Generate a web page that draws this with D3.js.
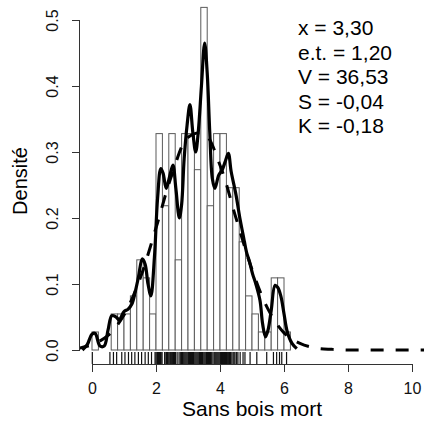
<!DOCTYPE html>
<html>
<head>
<meta charset="utf-8">
<script src="https://cdn.jsdelivr.net/npm/d3@7"></script>
<style>
  body { margin: 0; background: #fff; }
  svg { font-family: "Liberation Sans", Arial, sans-serif; }
</style>
</head>
<body>
<div id="chart"></div>
<script>
// histogram (bin width 0.2), counts
const binStarts = [0.0, 0.2, 0.4, 0.6, 0.8, 1.0, 1.2, 1.4, 1.6, 1.8, 2.0, 2.2, 2.4, 2.6, 2.8,
  3.0, 3.2, 3.4, 3.6, 3.8, 4.0, 4.2, 4.4, 4.6, 4.8, 5.0, 5.2, 5.4, 5.6, 5.8, 6.0];
const binCounts = [1, 0, 0, 2, 2, 2, 3, 5, 4, 2, 12, 8, 12, 5, 12,
  12, 10, 19, 8, 12, 12, 9, 9, 6, 3, 2, 1, 1, 4, 4, 1];
const binWidth = 0.2;
const nObs = 183;

// solid curve (kernel density)
const kdeX = [-0.3, -0.15, 0.0, 0.1, 0.25, 0.38, 0.5, 0.62, 0.75, 0.85, 1.0, 1.13, 1.25, 1.35, 1.45,
  1.57, 1.66, 1.75, 1.84, 1.95, 2.05, 2.15, 2.22, 2.32, 2.42, 2.53, 2.62, 2.73, 2.8, 2.88,
  2.97, 3.06, 3.15, 3.24, 3.32, 3.42, 3.52, 3.6, 3.68, 3.76, 3.84, 3.96, 4.06, 4.16, 4.26,
  4.35, 4.5, 4.62, 4.72, 4.83, 4.92, 5.02, 5.12, 5.25, 5.33, 5.42, 5.5, 5.6, 5.72, 5.8,
  5.9, 6.0, 6.1, 6.25, 6.4];
const kdeY = [0.0, 0.008, 0.024, 0.025, 0.006, 0.006, 0.03, 0.052, 0.05, 0.046, 0.058, 0.062, 0.07, 0.088, 0.11,
  0.138, 0.13, 0.1, 0.082, 0.14, 0.23, 0.275, 0.268, 0.245, 0.262, 0.28, 0.245, 0.2, 0.22, 0.29,
  0.34, 0.372, 0.33, 0.30, 0.33, 0.40, 0.465, 0.42, 0.33, 0.26, 0.245, 0.265, 0.272, 0.285, 0.298,
  0.27, 0.235, 0.2, 0.175, 0.148, 0.134, 0.115, 0.1, 0.075, 0.04, 0.02, 0.03, 0.06, 0.098, 0.095,
  0.082, 0.055, 0.028, 0.01, 0.002];

// dashed curve (normal fit)
const normX = [-0.5, 0, 0.5, 1, 1.5, 2, 2.5, 3, 3.5, 4, 4.5, 5, 5.5, 6, 6.5, 7, 7.5, 8, 8.5, 9, 9.5, 10, 10.5];
const normY = [0.002, 0.008, 0.022, 0.053, 0.108, 0.185, 0.266, 0.322, 0.328, 0.28, 0.2, 0.122, 0.062, 0.026, 0.01, 0.003, 0.001, 0, 0, 0, 0, 0, 0];

// rug of observations
const rugValues = [0.01, 0.56, 0.67, 0.77, 0.93, 1.03, 1.14, 1.24, 1.34, 1.45, 1.55, 1.66, 1.76, 1.86,
  1.97, 2.0, 2.03, 2.05, 2.08, 2.11, 2.14, 2.16, 2.19, 2.27, 2.31, 2.33, 2.36, 2.38, 2.41, 2.44,
  2.46, 2.49, 2.52, 2.55, 2.58, 2.61, 2.66, 2.72, 2.76, 2.8, 2.83, 2.85, 2.88, 2.91, 2.94, 2.97,
  3.0, 3.02, 3.05, 3.08, 3.11, 3.14, 3.17, 3.19, 3.22, 3.25, 3.28, 3.31, 3.34, 3.36, 3.39, 3.42,
  3.45, 3.47, 3.5, 3.53, 3.56, 3.58, 3.61, 3.64, 3.67, 3.7, 3.74, 3.78, 3.82, 3.85, 3.88, 3.91,
  3.94, 3.97, 4.0, 4.02, 4.05, 4.08, 4.11, 4.14, 4.17, 4.2, 4.23, 4.27, 4.3, 4.33, 4.37, 4.41,
  4.44, 4.47, 4.52, 4.56, 4.63, 4.72, 4.78, 4.94, 5.15, 5.46, 5.67, 5.77, 5.86, 5.93, 6.08];

const xTicks = [0, 2, 4, 6, 8, 10];
const yTicks = [0, 0.1, 0.2, 0.3, 0.4, 0.5];
const statLines = ["x = 3,30", "e.t. = 1,20", "V = 36,53", "S = -0,04", "K = -0,18"];

const width = 424, height = 423;

const svg = d3.select("#chart")
  .append("svg")
  .attr("width", width)
  .attr("height", height);

const x = d3.scaleLinear().domain([0, 10]).range([92, 412]);
const y = d3.scaleLinear().domain([0, 0.5]).range([350, 20]);

// plot region clip (R draws inside the box only)
svg.append("clipPath").attr("id", "plotclip")
  .append("rect")
  .attr("x", 80).attr("y", 0)
  .attr("width", width - 80).attr("height", 364);

const plot = svg.append("g").attr("clip-path", "url(#plotclip)");

// bars
const bins = binStarts.map((b, i) => ({x0: b, x1: b + binWidth, d: binCounts[i] / (nObs * binWidth)}));
plot.selectAll("rect.bar")
  .data(bins)
  .enter()
  .append("rect")
  .attr("class", "bar")
  .attr("x", d => x(d.x0))
  .attr("y", d => y(d.d))
  .attr("width", d => x(d.x1) - x(d.x0))
  .attr("height", d => y(0) - y(d.d))
  .style("fill", "white")
  .style("stroke", "#5a5a5a")
  .style("stroke-width", 1);

// rug
plot.selectAll("line.rug")
  .data(rugValues)
  .enter()
  .append("line")
  .attr("class", "rug")
  .attr("x1", d => x(d)).attr("x2", d => x(d))
  .attr("y1", 352).attr("y2", 364)
  .style("stroke", "#111")
  .style("stroke-width", 1.2);

// dashed normal curve
const curveLine = d3.line()
  .x(d => x(d[0]))
  .y(d => y(d[1]))
  .curve(d3.curveCatmullRom);
plot.append("path")
  .datum(normX.map((v, i) => [v, normY[i]]))
  .attr("d", curveLine)
  .style("fill", "none")
  .style("stroke", "black")
  .style("stroke-width", 3)
  .style("stroke-dasharray", "13,12");

// solid kernel density
plot.append("path")
  .datum(kdeX.map((v, i) => [v, kdeY[i]]))
  .attr("d", curveLine)
  .style("fill", "none")
  .style("stroke", "black")
  .style("stroke-width", 3.2)
  .style("stroke-linejoin", "round");

// x axis
const xAxis = svg.append("g")
  .attr("transform", "translate(0,364)")
  .call(d3.axisBottom(x).tickValues(xTicks).tickSize(8).tickPadding(10).tickFormat(d3.format("d")));
xAxis.select(".domain").attr("d", "M" + x(0) + ",0.5H" + x(10)).style("stroke", "#333");
xAxis.selectAll(".tick line").style("stroke", "#333");
xAxis.selectAll("text").style("font-size", "16px").style("fill", "#111")
  .attr("dy", "0.75em");

// y axis
const yAxis = svg.append("g")
  .attr("transform", "translate(80,0)")
  .call(d3.axisLeft(y).tickValues(yTicks).tickSize(8).tickFormat(d3.format(".1f")));
yAxis.select(".domain").attr("d", "M-0.5," + y(0) + "V" + y(0.5)).style("stroke", "#333");
yAxis.selectAll(".tick line").style("stroke", "#333");
yAxis.selectAll("text")
  .style("font-size", "16px").style("fill", "#111")
  .attr("x", null).attr("dy", null)
  .attr("text-anchor", "middle")
  .attr("transform", "translate(-22,0) rotate(-90)");

// axis titles
svg.append("text")
  .attr("x", 252).attr("y", 416)
  .attr("text-anchor", "middle")
  .style("font-size", "21px")
  .text("Sans bois mort");

svg.append("text")
  .attr("transform", "translate(27,181) rotate(-90)")
  .attr("text-anchor", "middle")
  .style("font-size", "20px")
  .text("Densité");

// summary statistics
svg.append("g").selectAll("text")
  .data(statLines)
  .enter()
  .append("text")
  .attr("x", 298)
  .attr("y", (d, i) => 35 + i * 24.5)
  .style("font-size", "21px")
  .text(d => d);
</script>
</body>
</html>
